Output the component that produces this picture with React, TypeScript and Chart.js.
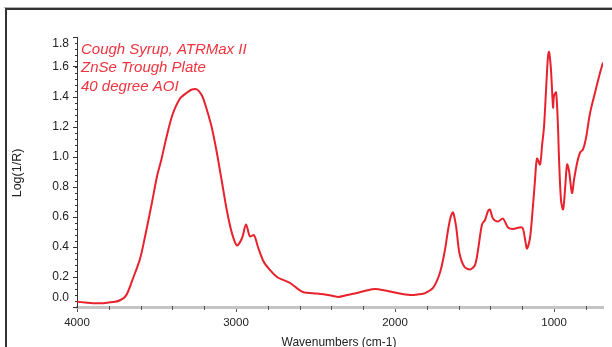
import React, { useEffect, useRef } from 'react';
import { Chart, registerables } from 'chart.js';

Chart.register(...registerables);

const wavenumbers = [
  4000, 3950, 3900, 3850, 3800, 3760, 3730, 3700, 3680, 3648, 3604, 3572, 3528, 3497, 3470,
  3440, 3400, 3352, 3308, 3277, 3245, 3214, 3182, 3151, 3119, 3088, 3057, 3025, 2994, 2962,
  2937, 2912, 2887, 2862, 2830, 2805, 2742, 2660, 2579, 2491, 2420, 2358, 2300, 2239, 2180,
  2126, 2060, 1987, 1906, 1850, 1811, 1761, 1717, 1686, 1667, 1650, 1635, 1615, 1595, 1565,
  1528, 1497, 1478, 1453, 1434, 1415, 1403, 1384, 1352, 1321, 1290, 1258, 1201, 1182, 1170,
  1151, 1132, 1120, 1107, 1088, 1075, 1063, 1050, 1038, 1031, 1019, 1006, 1000, 987, 975,
  969, 956, 943, 931, 918, 906, 887, 874, 855, 836, 818, 800, 774, 742, 711, 692,
];
const absorbance = [
  0.035, 0.03, 0.025, 0.025, 0.03, 0.035, 0.045, 0.065, 0.1, 0.19, 0.32, 0.47, 0.7, 0.87, 0.98,
  1.12, 1.28, 1.39, 1.43, 1.45, 1.45, 1.41, 1.31, 1.19, 1.02, 0.83, 0.64, 0.49, 0.41, 0.46,
  0.55, 0.47, 0.48, 0.4, 0.31, 0.27, 0.2, 0.16, 0.1, 0.09, 0.08, 0.067, 0.08, 0.093, 0.11,
  0.12, 0.11, 0.093, 0.08, 0.085, 0.093, 0.127, 0.23, 0.38, 0.51, 0.6, 0.63, 0.53, 0.36, 0.27,
  0.25, 0.28, 0.38, 0.55, 0.58, 0.64, 0.65, 0.59, 0.57, 0.59, 0.53, 0.52, 0.53, 0.45, 0.39,
  0.46, 0.68, 0.84, 0.99, 0.95, 1.08, 1.2, 1.45, 1.67, 1.7, 1.58, 1.33, 1.41, 1.43, 1.2,
  1.0, 0.71, 0.65, 0.78, 0.95, 0.91, 0.76, 0.85, 0.96, 1.03, 1.05, 1.12, 1.29, 1.43, 1.56, 1.63,
];

const xTickValues = [4000, 3000, 2000, 1000];
const xMinorTickValues = [
  3800, 3600, 3400, 3200, 2800, 2600, 2400, 2200, 1800, 1600, 1400, 1200, 800,
];
const yTickValues = [0, 0.2, 0.4, 0.6, 0.8, 1.0, 1.2, 1.4, 1.6, 1.8];
const annotationLines = ['Cough Syrup, ATRMax II', 'ZnSe Trough Plate', '40 degree AOI'];
const xTitle = 'Wavenumbers (cm-1)';
const yTitle = 'Log(1/R)';

const FONT = "'Liberation Sans', Arial, sans-serif";
const RED = '#e8222c';
const TEXT_RED = 'rgb(238,52,62)';

const decorPlugin = {
  id: 'decor',
  beforeDraw(chart: any) {
    const { ctx } = chart;
    ctx.save();
    ctx.fillStyle = '#ffffff';
    ctx.fillRect(0, 0, chart.width, chart.height);
    ctx.restore();
  },
  afterDraw(chart: any) {
    const { ctx, chartArea } = chart;
    const xs = chart.scales.x;
    const ys = chart.scales.y;
    ctx.save();
    // outer frame
    ctx.strokeStyle = '#b0b0b0';
    ctx.lineWidth = 1;
    ctx.beginPath();
    ctx.moveTo(4, 7.5);
    ctx.lineTo(612, 7.5);
    ctx.stroke();
    ctx.strokeStyle = '#333333';
    ctx.lineWidth = 2;
    ctx.beginPath();
    ctx.moveTo(6, 347);
    ctx.lineTo(6, 9);
    ctx.lineTo(612, 9);
    ctx.stroke();

    // y minor ticks
    ctx.strokeStyle = '#333333';
    ctx.lineWidth = 1;
    const step = 0.04;
    for (let v = ys.min; v <= ys.max + 1e-6; v += step) {
      const py = Math.round(ys.getPixelForValue(v)) + 0.5;
      ctx.beginPath();
      ctx.moveTo(chartArea.left - 2, py);
      ctx.lineTo(chartArea.left, py);
      ctx.stroke();
    }
    // y tick labels (kept inside the axis extent like the original)
    ctx.fillStyle = '#222222';
    ctx.font = `12px ${FONT}`;
    ctx.textAlign = 'right';
    ctx.textBaseline = 'middle';
    for (const v of yTickValues) {
      let py = ys.getPixelForValue(v);
      py = Math.max(py, chartArea.top + 7);
      py = Math.min(py, chartArea.bottom - 9);
      ctx.fillText(v.toFixed(1), chartArea.left - 8, py);
    }

    // x minor ticks
    ctx.strokeStyle = '#555555';
    for (const v of xMinorTickValues) {
      const px = Math.round(xs.getPixelForValue(v)) + 0.5;
      ctx.beginPath();
      ctx.moveTo(px, chartArea.bottom - 1);
      ctx.lineTo(px, chartArea.bottom + 3);
      ctx.stroke();
    }

    // annotation text
    ctx.fillStyle = TEXT_RED;
    ctx.font = `italic 15px ${FONT}`;
    ctx.textAlign = 'left';
    ctx.textBaseline = 'alphabetic';
    annotationLines.forEach((t, i) => {
      ctx.fillText(t, 81, 54 + i * 18.3);
    });

    // axis titles
    ctx.fillStyle = '#222222';
    ctx.font = `12px ${FONT}`;
    ctx.textAlign = 'center';
    ctx.fillText(xTitle, 339, 346);

    ctx.save();
    ctx.translate(18, 173);
    ctx.rotate(-Math.PI / 2);
    ctx.font = `12.5px ${FONT}`;
    ctx.textBaseline = 'middle';
    ctx.fillText(yTitle, 0, 0);
    ctx.restore();

    ctx.restore();
  },
};

export default function App() {
  const canvasRef = useRef<HTMLCanvasElement | null>(null);

  useEffect(() => {
    const canvas = canvasRef.current;
    if (!canvas) return;
    const points = wavenumbers.map((w, i) => ({ x: w, y: absorbance[i] }));
    const chart = new Chart(canvas, {
      type: 'line',
      data: {
        datasets: [
          {
            data: points,
            borderColor: RED,
            borderWidth: 2,
            pointRadius: 0,
            tension: 0.3,
            fill: false,
          },
        ],
      },
      options: {
        animation: false,
        responsive: false,
        devicePixelRatio: 1,
        layout: { padding: { left: 0, top: 37, right: 9, bottom: 0 } },
        plugins: {
          legend: { display: false },
          tooltip: { enabled: false },
        },
        scales: {
          x: {
            type: 'linear',
            reverse: true,
            min: 692,
            max: 4000,
            afterBuildTicks: (scale: any) => {
              scale.ticks = xTickValues.map((v) => ({ value: v }));
            },
            afterFit: (scale: any) => {
              scale.height = 40;
            },
            ticks: {
              color: '#222222',
              font: { family: FONT, size: 11.5 },
              padding: 4,
              maxRotation: 0,
              autoSkip: false,
              callback: (v: any) => String(v),
            },
            grid: {
              display: true,
              drawOnChartArea: false,
              drawTicks: true,
              tickLength: 5,
              tickColor: '#555555',
              tickWidth: 1,
            },
            border: { display: true, color: '#c4c4c4', width: 3 },
          },
          y: {
            type: 'linear',
            min: 0,
            max: 1.8,
            afterBuildTicks: (scale: any) => {
              scale.ticks = yTickValues.map((v) => ({ value: v }));
            },
            afterFit: (scale: any) => {
              scale.width = 77;
            },
            ticks: {
              display: false,
              autoSkip: false,
            },
            grid: {
              display: true,
              drawOnChartArea: false,
              drawTicks: true,
              tickLength: 4,
              tickColor: '#333333',
              tickWidth: 1,
            },
            border: { display: true, color: '#333333', width: 1 },
          },
        },
      },
      plugins: [decorPlugin],
    });
    return () => chart.destroy();
  }, []);

  return (
    <div style={{ position: 'absolute', left: 0, top: 0, width: 612, height: 347 }}>
      <canvas ref={canvasRef} width={612} height={347} style={{ display: 'block' }} />
    </div>
  );
}
